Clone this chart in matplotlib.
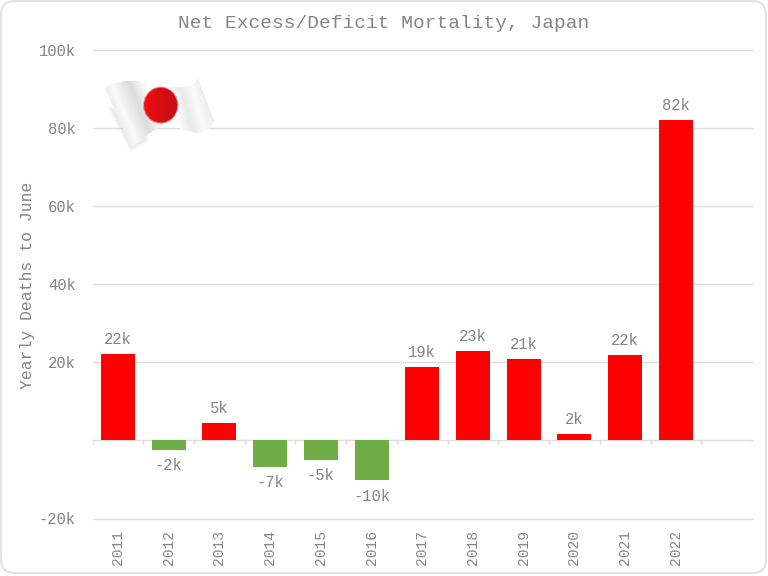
import numpy as np
import matplotlib
matplotlib.use("Agg")
import matplotlib.pyplot as plt
from matplotlib.patches import FancyBboxPatch, Polygon

plt.rcParams['font.family'] = ['Liberation Mono', 'DejaVu Sans']

years = [2011, 2012, 2013, 2014, 2015, 2016, 2017, 2018, 2019, 2020, 2021, 2022]
excess = [22.2, -2.4, 4.5, -6.8, -4.9, -10.2, 18.8, 23.0, 20.8, 1.6, 21.8, 82.0]
bar_labels = ["22k", "-2k", "5k", "-7k", "-5k", "-10k", "19k", "23k", "21k", "2k", "22k", "82k"]
yticks = [-20, 0, 20, 40, 60, 80, 100]
ytick_labels = ["-20k", "", "20k", "40k", "60k", "80k", "100k"]

GREY = "#858585"
W, H = 768, 576

fig = plt.figure(figsize=(W/100, H/100), dpi=100, facecolor="white")

# overlay in pixel space, for the rounded frame and the flag
bg = fig.add_axes([0, 0, 1, 1], zorder=0)
bg.set_xlim(0, W)
bg.set_ylim(H, 0)
bg.axis("off")
bg.add_patch(FancyBboxPatch((1, 1), W-3, H-4, boxstyle="round,pad=0,rounding_size=14",
                            fc="white", ec="#e2e2e2", lw=1.5))

ax = fig.add_axes([92.5/W, 1-518.5/H, (752-92.5)/W, (518.5-50)/H], zorder=1)
ax.patch.set_alpha(0)
x = np.arange(len(years))
colors = ["#ff0000" if v > 0 else "#70ad47" for v in excess]
ax.bar(x, excess, width=0.67, color=colors, zorder=3)

ax.set_xlim(-0.5, 12.5)
ax.set_ylim(-20, 100)
ax.set_yticks(yticks)
ax.set_yticklabels(ytick_labels, fontsize=11.2, color=GREY)
ax.set_xticks(x)
ax.set_xticklabels(years, rotation=90, fontsize=10.5, color=GREY)
ax.tick_params(axis="both", length=0)
ax.tick_params(axis="x", pad=8)
ax.tick_params(axis="y", pad=12)
ax.grid(axis="y", color="#dedede", lw=1, zorder=0, clip_on=False)
for s in ax.spines.values():
    s.set_visible(False)

# small ticks on the zero line, between the categories
for b in np.arange(-0.5, 12.6, 1):
    ax.plot([b, b], [0, -0.9], color="#dedede", lw=1, zorder=1)

for i, v in enumerate(excess):
    off = 5 if v > 0 else -6
    ax.annotate(bar_labels[i], (i, v), xytext=(0, off), textcoords="offset points",
                ha="center", va="bottom" if v > 0 else "top", fontsize=11.2, color=GREY, zorder=4)

fig.text(27.5/W, 1-285/H, "Yearly Deaths to June", rotation=90, ha="center", va="center",
         fontsize=11.8, color=GREY)
fig.text(384/W, 1-23/H, "Net Excess/Deficit Mortality, Japan", ha="center", va="center",
         fontsize=14, color=GREY)

# waving flag
fl = fig.add_axes([0, 0, 1, 1], zorder=2)
fl.set_xlim(0, W)
fl.set_ylim(H, 0)
fl.axis("off")
fl.patch.set_alpha(0)
for grow, a in [(5, 0.03), (3, 0.05), (1, 0.07)]:
    fl.add_patch(Polygon([(110-grow, 105), (131, 148+grow), (150, 137+grow), (125, 118)],
                         fc="#808080", ec="none", alpha=a))

u = np.linspace(0, 1, 220)
v = np.linspace(0, 1, 130)
uu, vv = np.meshgrid(u, v)
knots = [0, .25, .55, .8, 1]


def curve(vals, t):
    # smooth curve through the outline points of the flag edge
    return np.polyval(np.polyfit(knots, vals, 4), t)


top_x = curve([105, 128, 160, 185, 198], uu)
top_y = curve([88, 81, 85, 87, 78], uu)
bot_x = curve([131, 150, 175, 197, 214], uu)
bot_y = curve([146, 133, 127, 133, 121], uu)
px = top_x + (bot_x-top_x)*vv
py = top_y + (bot_y-top_y)*vv

shade = np.interp(uu, [0, .08, .25, .42, .6, .75, .88, 1],
                  [.93, .98, .86, 1.0, 1.0, .91, .98, .93])
rgb = np.dstack([shade, shade, shade])
d = np.hypot((px-160.5)/18, (py-105)/19)
mask = np.clip((1-d)*9, 0, 1)
red = np.dstack([0.95-0.2*(px-143)/35, 0.05+0*px, 0.07+0*px])
rgb = rgb*(1-mask[..., None]) + np.clip(red, 0, 1)*mask[..., None]
fl.pcolormesh(px, py, rgb[:-1, :-1], shading="flat", rasterized=True)

fig.savefig("out.png", dpi=100)
